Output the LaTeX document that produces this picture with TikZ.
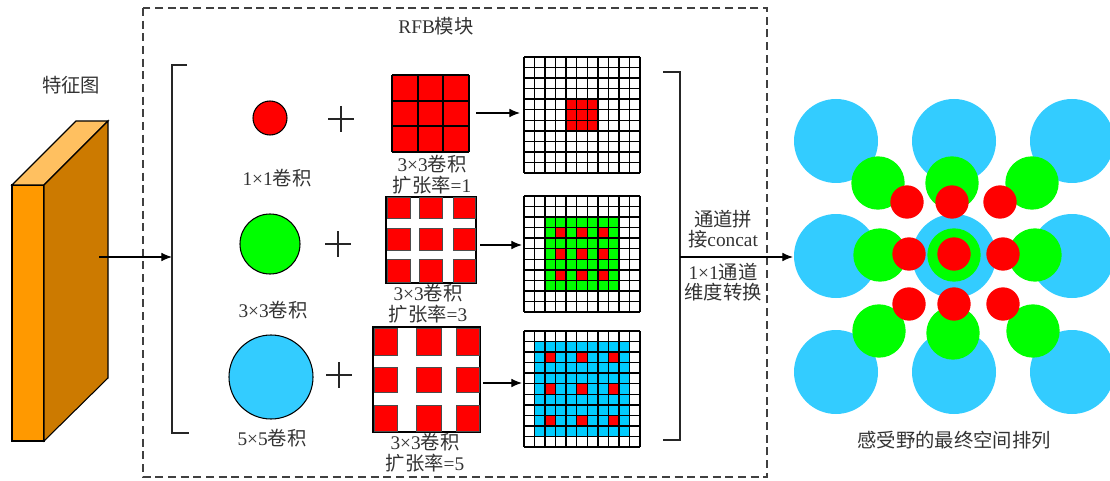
\documentclass[tikz,border=0pt]{standalone}
\usepackage{fontspec}
\setmainfont{Liberation Serif}
\newfontfamily\cjk{Noto Sans CJK SC}
\newcommand\zh[1]{{\cjk #1}}
\usetikzlibrary{arrows.meta}
\definecolor{cred}{HTML}{FF0000}
\definecolor{cgreen}{HTML}{00FF00}
\definecolor{cblue}{HTML}{33CCFF}
\definecolor{gblue}{HTML}{00CCFF}
\definecolor{ofront}{HTML}{FF9900}
\definecolor{otop}{HTML}{FFC060}
\definecolor{oside}{HTML}{CC7A00}
\definecolor{dashgray}{HTML}{404040}
\definecolor{txt}{HTML}{333333}
\begin{document}
\begin{tikzpicture}[x=0.75pt,y=-0.75pt,
  lbl/.style={font=\fontsize{14.5}{15.5}\selectfont, text=txt, inner sep=0pt, align=center},
  arr/.style={line width=0.8pt, -{Latex[length=8pt,width=6.5pt]}},
  brk/.style={line width=1.1pt, draw=black!85},
  plus/.style={line width=0.9pt, draw=black!85},
  gline/.style={line width=1.1pt, draw=black},
  circ/.style={draw=black, line width=0.8pt}]
\useasboundingbox (0,0) rectangle (1110,481);
\clip (0,0) rectangle (1110,481);

% dashed RFB box
\draw[dashgray, line width=1.1pt, dash pattern=on 6pt off 3.5pt] (143,8) rectangle (767,477);
\node[lbl] (rfb) at (436,26) {RFB\zh{模块}};

% feature map
\draw[fill=ofront, line width=0.8pt] (12,185) rectangle (44,441);
\draw[fill=otop, line width=0.8pt] (12,185) -- (76,121) -- (108,121) -- (44,185) -- cycle;
\draw[fill=oside, line width=0.8pt] (44,185) -- (108,121) -- (108,378) -- (44,441) -- cycle;
\node[lbl] (fm) at (71,85) {\zh{特征图}};
\coordinate (fmout) at (99,257);
\coordinate (lbr) at (172,257);
\draw[arr] (fmout) -- (lbr);

% left bracket
\draw[brk] (187,65) -- (172,65) -- (172,433) -- (189,433);

% conv circles
\draw[circ, fill=cred] (270,118) circle[radius=12.75pt];
\draw[circ, fill=cgreen] (270,244) circle[radius=22.5pt];
\draw[circ, fill=cblue] (271,377) circle[radius=31.5pt];
\node[lbl] (c1) at (277,178) {1×1\zh{卷积}};
\node[lbl] (c3) at (273,310) {3×3\zh{卷积}};
\node[lbl] (c5) at (272,438) {5×5\zh{卷积}};

% plus signs
\foreach \px/\py in {341/119, 338/244, 339/375}{
  \draw[plus] (\px-13,\py) -- (\px+13,\py);
  \draw[plus] (\px,\py-13) -- (\px,\py+13);
}

% kernel 1 (dilation 1)
\fill[cred] (392,75) rectangle (469,152);
\foreach \t in {0,1,2,3}{
  \draw[line width=1.5pt] (392+\t*25.667,75) -- (392+\t*25.667,152);
  \draw[line width=1.5pt] (392,75+\t*25.667) -- (469,75+\t*25.667);
}
\node[lbl] (k1) at (432,175) {3×3\zh{卷积}\\\zh{扩张率}=1};

% kernel 2 (dilation 3)
\draw[fill=white, line width=0.9pt] (386,197) rectangle (476,283);
\foreach \ax/\bx in {387/410, 419/442, 453/475}{
  \foreach \ay/\by in {197/218, 228/250, 259/282}{
    \draw[fill=cred, draw=black!70, line width=0.4pt] (\ax,\ay) rectangle (\bx,\by);
  }
}
\node[lbl] (k2) at (428,304) {3×3\zh{卷积}\\\zh{扩张率}=3};

% kernel 3 (dilation 5)
\draw[fill=white, line width=0.9pt] (373,327) rectangle (480,432);
\foreach \ax/\bx in {374/397, 416/441, 456/479}{
  \foreach \ay/\by in {328/355, 367/392, 405/431}{
    \draw[fill=cred, draw=black!70, line width=0.4pt] (\ax,\ay) rectangle (\bx,\by);
  }
}
\node[lbl] (k3) at (425,453) {3×3\zh{卷积}\\\zh{扩张率}=5};

% arrows kernel -> grid
\coordinate (a1s) at (476,113); \coordinate (a1e) at (520,113);
\coordinate (a2s) at (480,245); \coordinate (a2e) at (522,245);
\coordinate (a3s) at (483,383); \coordinate (a3e) at (522,383);
\draw[arr] (a1s) -- (a1e);
\draw[arr] (a2s) -- (a2e);
\draw[arr] (a3s) -- (a3e);

% grid 1
\begin{scope}[shift={(524,57)}, x=7.909pt, y=-7.909pt]
  \fill[cred] (4,4) rectangle (7,7);
  \foreach \i in {0,...,11}{
    \draw[gline] (\i,0) -- (\i,11);
    \draw[gline] (0,\i) -- (11,\i);
  }
\end{scope}
% grid 2
\begin{scope}[shift={(524,196)}, x=7.909pt, y=-7.909pt]
  \fill[cgreen] (2,2) rectangle (9,9);
  \foreach \a in {3,5,7}{\foreach \b in {3,5,7}{\fill[cred] (\a,\b) rectangle +(1,1);}}
  \foreach \i in {0,...,11}{
    \draw[gline] (\i,0) -- (\i,11);
    \draw[gline] (0,\i) -- (11,\i);
  }
\end{scope}
% grid 3
\begin{scope}[shift={(524,331)}, x=7.909pt, y=-7.909pt]
  \fill[gblue] (1,1) rectangle (10,10);
  \foreach \a in {2,5,8}{\foreach \b in {2,5,8}{\fill[cred] (\a,\b) rectangle +(1,1);}}
  \foreach \i in {0,...,11}{
    \draw[gline] (\i,0) -- (\i,11);
    \draw[gline] (0,\i) -- (11,\i);
  }
\end{scope}

% right bracket and concat
\draw[brk] (663,72) -- (680,72) -- (680,440) -- (663,440);
\coordinate (rbr) at (680,257);
\coordinate (clus) at (793,257);
\draw[arr] (rbr) -- (clus);
\node[lbl] (t1) at (723,229) {\zh{通道拼}\\\zh{接}concat};
\node[lbl] (t2) at (723,282) {1×1\zh{通道}\\\zh{维度转换}};

% receptive field cluster
\foreach \cx in {836,954,1072}{
  \foreach \cy in {141,256,372}{
    \fill[cblue] (\cx,\cy) circle[radius=31.5pt];
  }
}
\foreach \cx/\cy in {878/183, 952/183, 1032/183, 880/255, 954/255, 1035/255, 879/331, 953/333, 1033/331}{
  \fill[cgreen] (\cx,\cy) circle[radius=20pt];
}
\foreach \cx/\cy in {907/202, 952/202, 1000/202, 909/254, 954/254, 1003/254, 909/304, 954/304, 1003/304}{
  \fill[cred] (\cx,\cy) circle[radius=12.5pt];
}
\node[lbl] (rf) at (954,440) {\zh{感受野的最终空间排列}};
\end{tikzpicture}
\end{document}
